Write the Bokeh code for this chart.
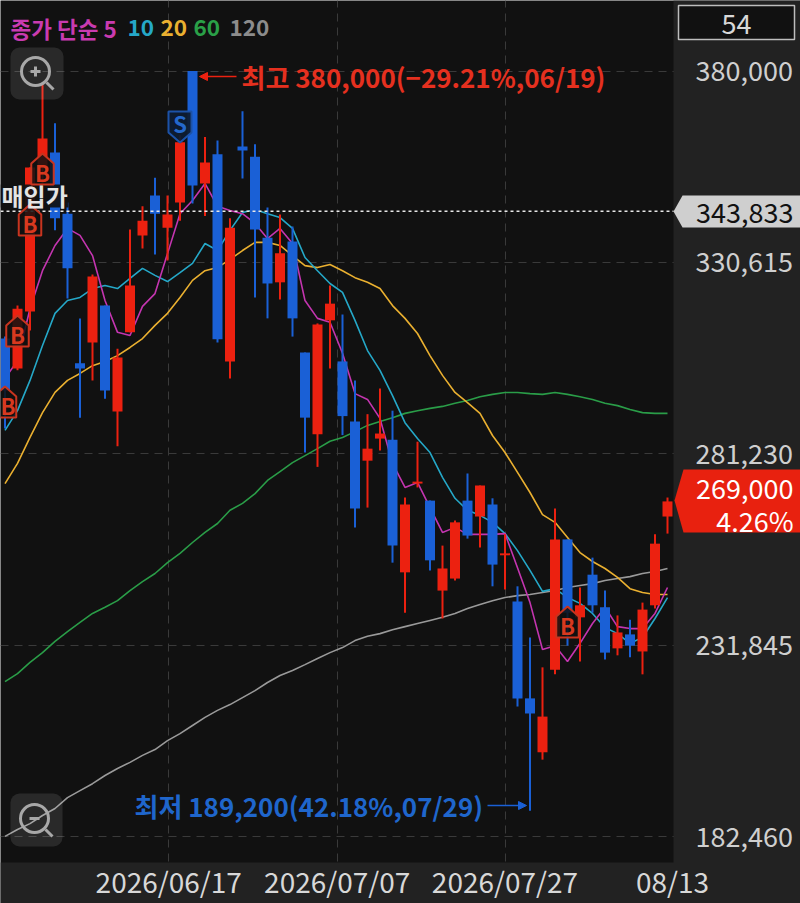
from bokeh.plotting import figure
from bokeh.embed import file_html
from bokeh.resources import INLINE
from bokeh.models import (Range1d, FixedTicker, NumeralTickFormatter, Label, BoxAnnotation,
                          Arrow, NormalHead, ColumnDataSource)

# ---- data (KRW, one value per trading day) ----
opens = [311000,303300,318000,354900,359000,343200,304600,310000,319500,292200,312600,337600,347900,339600,346100,380000,351000,358500,305100,360500,357900,337000,325500,336000,307400,286300,315700,305100,289600,279500,285200,284900,250700,273600,269200,246000,249100,269200,265100,268200,255100,243200,218200,204300,225600,259200,239100,250100,241700,231100,234700,230300,242200,265100]
highs = [311500,319500,355100,376800,366500,346100,316200,327500,319500,308400,339100,345100,352500,347900,363400,380000,363000,362100,342000,369600,361100,344800,343000,339900,307400,314900,324700,317200,300200,291500,298100,292400,270000,284400,269200,257600,264100,276200,273100,269800,260500,247100,233900,226200,267200,259200,246800,254500,246000,239600,238500,242900,260500,270000]
lows = [287800,302800,313100,350500,338900,321300,290600,300200,295500,283200,312600,334200,332700,331100,341400,345800,342600,310000,300700,352300,321600,316200,321100,311500,281600,277900,303300,286100,262300,267400,282100,253200,240300,272600,251200,238800,248600,259400,257100,247100,246300,216100,189200,202400,224400,231800,227700,240300,228200,229300,228800,224400,241400,260700]
closes = [297600,318700,355100,362600,342000,329100,303300,327000,297600,306100,324700,341400,343200,343000,361600,350500,356400,310800,339600,359500,339100,325200,333000,316200,290600,314600,320000,291000,267200,282600,286500,257600,268200,274100,253800,251700,263600,260200,273100,252700,255600,218200,214300,213500,259200,240300,242200,242200,230000,235200,231800,241100,258100,269000]

ma5 = [300700,305300,318700,328500,335000,339400,337600,332400,320800,312600,311800,319300,322600,332900,343200,346600,351000,345100,344000,343200,340700,336800,339400,335500,320800,316200,315200,307200,296800,295300,290400,278800,272600,273900,267400,261000,262300,260500,260500,260500,260700,251900,242900,230800,231800,227700,232400,237500,241700,236700,236200,236200,240100,246800]
ma10 = [287300,292400,300200,309200,317500,320800,321600,323900,324700,323900,326500,329100,327300,325700,328000,330400,335500,333700,338900,343500,344300,343200,342200,339400,331900,328500,325200,322900,315700,307900,302800,296300,289300,285200,281600,275200,269800,266700,265400,263600,260700,256300,251200,245800,246500,244200,242700,240100,236500,234900,232400,233900,238800,244200]
ma20 = [273600,278800,285500,291900,297100,300200,302000,304000,305100,306600,308700,311000,314400,317500,321600,326000,328500,329300,331400,333700,335800,335800,335000,332400,329800,329300,330100,328500,326700,325500,323900,319500,316200,312300,306600,301500,297100,294500,291700,286000,281600,276500,271300,265600,263600,259700,255800,253500,251700,249400,246500,245500,245000,245000]
ma60 = [222500,224600,227500,230000,232900,235400,237800,240100,241700,243400,246000,248300,250400,253200,255600,258400,261000,263300,266700,268500,271000,274400,276700,279000,280800,282600,284500,285500,287000,288600,289600,290600,291700,292400,293000,293500,294300,295000,296000,296600,297100,297100,296800,296600,297100,296600,296000,295300,294300,293700,292700,291900,291700,291700]
ma120 = [182600,184400,185900,188000,189800,192600,194400,196200,198300,200100,201700,203500,205000,207300,209100,211200,213300,215100,216600,218400,220200,222300,224100,225400,226900,228500,230000,231300,233100,234200,234900,235900,236700,237500,238300,239100,240100,241400,242400,243400,244200,244700,245000,245500,246000,246800,247300,247800,248600,249100,249600,250400,250900,251700]

y_ticks = [380000, 330615, 281230, 231845, 182460]
date_labels = ["2026/06/17", "2026/07/07", "2026/07/27", "08/13"]
date_pos = [13.1, 26.58, 40.0, 53.4]
buy_days = [0, 1, 2, 3, 45]
buy_tops = [386, 315, 204, 153, 606]     # marker tops, layout
sell_day = 14
avg_price = 343833
last_price = 269000

FONT = "Noto Sans CJK KR"
RED, BLUE = "#ec2110", "#1a60d6"
BG, PANEL = "#111111", "#222222"
W, H = 800, 903

def PY(y):   # picture row -> price
    return 398182 - 257.9 * y
def PX(x):   # picture column -> day index
    return (x - 4.5) / 12.5

p = figure(width=W, height=H, output_backend="svg", toolbar_location=None,
           x_range=Range1d(PX(0), PX(W)), y_range=Range1d(PY(H), PY(0)),
           y_axis_location="right", background_fill_color=BG, border_fill_color=PANEL,
           min_border_left=0, min_border_top=0, min_border_right=0, min_border_bottom=0)
p.outline_line_color = None

ya = p.yaxis[0]
ya.ticker = FixedTicker(ticks=y_ticks)
ya.formatter = NumeralTickFormatter(format="0,0")
ya.axis_line_color = None
ya.major_tick_line_color = None
ya.minor_tick_line_color = None
ya.major_tick_in = 0
ya.major_tick_out = 0
ya.major_label_standoff = -105
ya.major_label_text_font = FONT
ya.major_label_text_font_size = "27px"
ya.major_label_text_color = "#cfcfcf"

xa = p.xaxis[0]
xa.ticker = FixedTicker(ticks=date_pos)
xa.major_label_overrides = {d: s for d, s in zip(date_pos, date_labels)}
xa.axis_line_color = None
xa.major_tick_line_color = None
xa.minor_tick_line_color = None
xa.major_tick_in = 0
xa.major_tick_out = 0
xa.major_label_standoff = -43
xa.major_label_text_font = FONT
xa.major_label_text_font_size = "28px"
xa.major_label_text_color = "#d8d8d8"

p.xgrid.ticker = FixedTicker(ticks=date_pos[:3])
p.ygrid.ticker = FixedTicker(ticks=y_ticks)
for g in (p.xgrid, p.ygrid):
    g.grid_line_color = "#3a3a3a"
    g.grid_line_dash = "8 6"
    g.grid_line_width = 1

# side panels of the price and date scales
p.quad(left=[PX(673)], right=[PX(W)], top=[PY(0)], bottom=[PY(H)], fill_color=PANEL, line_color=None)
p.quad(left=[PX(0)], right=[PX(W)], top=[PY(862)], bottom=[PY(H)], fill_color=PANEL, line_color=None)

days = list(range(len(closes)))
for series, col in [(ma120, "#9a9a9a"), (ma60, "#2a9d48"), (ma20, "#eab030"), (ma10, "#25a8c8"), (ma5, "#c435b0")]:
    p.line(days, series, line_color=col, line_width=1.6)

colors = [RED if c >= o else BLUE for o, c in zip(opens, closes)]
src = ColumnDataSource(dict(x=days, o=opens, h=highs, l=lows, c=closes, col=colors,
                            top=[max(o, c) for o, c in zip(opens, closes)],
                            bot=[min(o, c) for o, c in zip(opens, closes)]))
p.segment("x", "h", "x", "l", source=src, line_color="col", line_width=2)
p.vbar("x", 0.8, "bot", "top", source=src, fill_color="col", line_color=None)

p.line([PX(0), PX(673)], [avg_price, avg_price], line_color="#e8e8e8", line_dash="3 3", line_width=1.6)

# backing of the average price label
p.quad(left=[PX(0)], right=[PX(68)], top=[PY(184)], bottom=[PY(207)], fill_color=BG, fill_alpha=0.92, line_color=None)

# buy markers (house shape)
for d, t in zip(buy_days, buy_tops):
    xs = [d, d + 0.9, d + 0.9, d - 0.9, d - 0.9]
    ys = [PY(t), PY(t + 10), PY(t + 31), PY(t + 31), PY(t + 10)]
    p.patch(xs, ys, fill_color=BG, fill_alpha=0.85, line_color="#c8341f", line_width=2)
    p.add_layout(Label(x=max(d, PX(7.5)), y=PY(t + 18), text="B", text_color="#d8391f", text_font=FONT,
                       text_font_size="22px", text_font_style="bold", text_align="center", text_baseline="middle"))
# sell marker (shield)
xs = [sell_day - 0.92, sell_day + 0.92, sell_day + 0.92, sell_day, sell_day - 0.92]
ys = [PY(111), PY(111), PY(132), PY(142), PY(132)]
p.patch(xs, ys, fill_color="#0e1c33", fill_alpha=0.95, line_color="#1c52a8", line_width=2)
p.add_layout(Label(x=sell_day, y=PY(122), text="S", text_color="#2468cc", text_font=FONT, text_font_style="bold",
                   text_font_size="22px", text_align="center", text_baseline="middle"))

# high / low annotations
p.add_layout(Arrow(end=NormalHead(size=8, fill_color=RED, line_color=RED), x_start=PX(236), y_start=PY(76),
                   x_end=PX(199), y_end=PY(76), line_color=RED, line_width=1.5))
p.add_layout(Label(x=PX(241), y=PY(76), text="최고 380,000(−29.21%,06/19)", text_color="#e5301f", text_font=FONT,
                   text_font_size="26px", text_font_style="bold", text_baseline="middle"))
p.add_layout(Arrow(end=NormalHead(size=8, fill_color=BLUE, line_color=BLUE), x_start=PX(487), y_start=PY(805),
                   x_end=PX(526), y_end=PY(805), line_color=BLUE, line_width=1.5))
p.add_layout(Label(x=PX(134), y=PY(805), text="최저 189,200(42.18%,07/29)", text_color="#1f66cc", text_font=FONT,
                   text_font_size="26px", text_font_style="bold", text_baseline="middle"))

# legend text
for txt, x, col in [("종가 단순 5", 10, "#c93bb0"), ("10", 127, "#25a8c8"), ("20", 160, "#eab030"),
                    ("60", 193, "#2aa048"), ("120", 229, "#8c8c8c")]:
    p.add_layout(Label(x=PX(x), y=PY(27), text=txt, text_color=col, text_font=FONT, text_font_style="bold",
                       text_font_size="22.5px", text_baseline="middle"))

# average price label
p.add_layout(Label(x=PX(1), y=PY(195), text="매입가", text_color="#e4e4e4", text_font=FONT, text_font_size="24px",
                   text_font_style="bold", text_baseline="middle"))

# zoom buttons
for x0, x1, y0, y1, cx, cy, mark in [(10, 63, 47, 99, 35, 71, "+"), (10, 62, 793, 846, 34, 818, "-")]:
    p.add_layout(BoxAnnotation(left=PX(x0), right=PX(x1), top=PY(y0), bottom=PY(y1), fill_color="#ffffff",
                               fill_alpha=0.1, line_color=None, border_radius=9))
    p.scatter([PX(cx)], [PY(cy)], marker="circle", size=28, fill_alpha=0, line_color="#a8a8a8", line_width=3, level="overlay")
    p.segment([PX(cx + 11)], [PY(cy + 11)], [PX(cx + 18)], [PY(cy + 18)], line_color="#a8a8a8", line_width=3, level="overlay")
    p.segment([PX(cx - 5)], [PY(cy)], [PX(cx + 5)], [PY(cy)], line_color="#a8a8a8", line_width=3, level="overlay")
    if mark == "+":
        p.segment([PX(cx)], [PY(cy - 5)], [PX(cx)], [PY(cy + 5)], line_color="#a8a8a8", line_width=3, level="overlay")

# right-hand tags
p.quad(left=[PX(678)], right=[PX(794)], top=[PY(5)], bottom=[PY(39)], fill_color=BG, line_color="#bdbdbd", line_width=1.5)
p.add_layout(Label(x=PX(736), y=PY(23), text="54", text_color="#d8d8d8", text_font=FONT, text_font_size="27px",
                   text_align="center", text_baseline="middle"))
p.patch([PX(673), PX(682), PX(W), PX(W), PX(682)], [PY(211), PY(195), PY(195), PY(227), PY(227)],
        fill_color="#cfcfcf", line_color=None)
p.add_layout(Label(x=PX(793), y=PY(212), text=f"{avg_price:,}", text_color="#111111", text_font=FONT, text_font_size="27px",
                   text_align="right", text_baseline="middle"))
p.patch([PX(674), PX(683), PX(W), PX(W), PX(683)], [PY(500), PY(469), PY(469), PY(532), PY(532)],
        fill_color="#e8210f", line_color=None)
p.add_layout(Label(x=PX(793), y=PY(488), text=f"{last_price:,}", text_color="#ffffff", text_font=FONT, text_font_size="27px",
                   text_align="right", text_baseline="middle"))
p.add_layout(Label(x=PX(793), y=PY(520), text="4.26%", text_color="#ffffff", text_font=FONT, text_font_size="27px",
                   text_align="right", text_baseline="middle"))

open("out.html", "w").write(file_html(p, INLINE))
